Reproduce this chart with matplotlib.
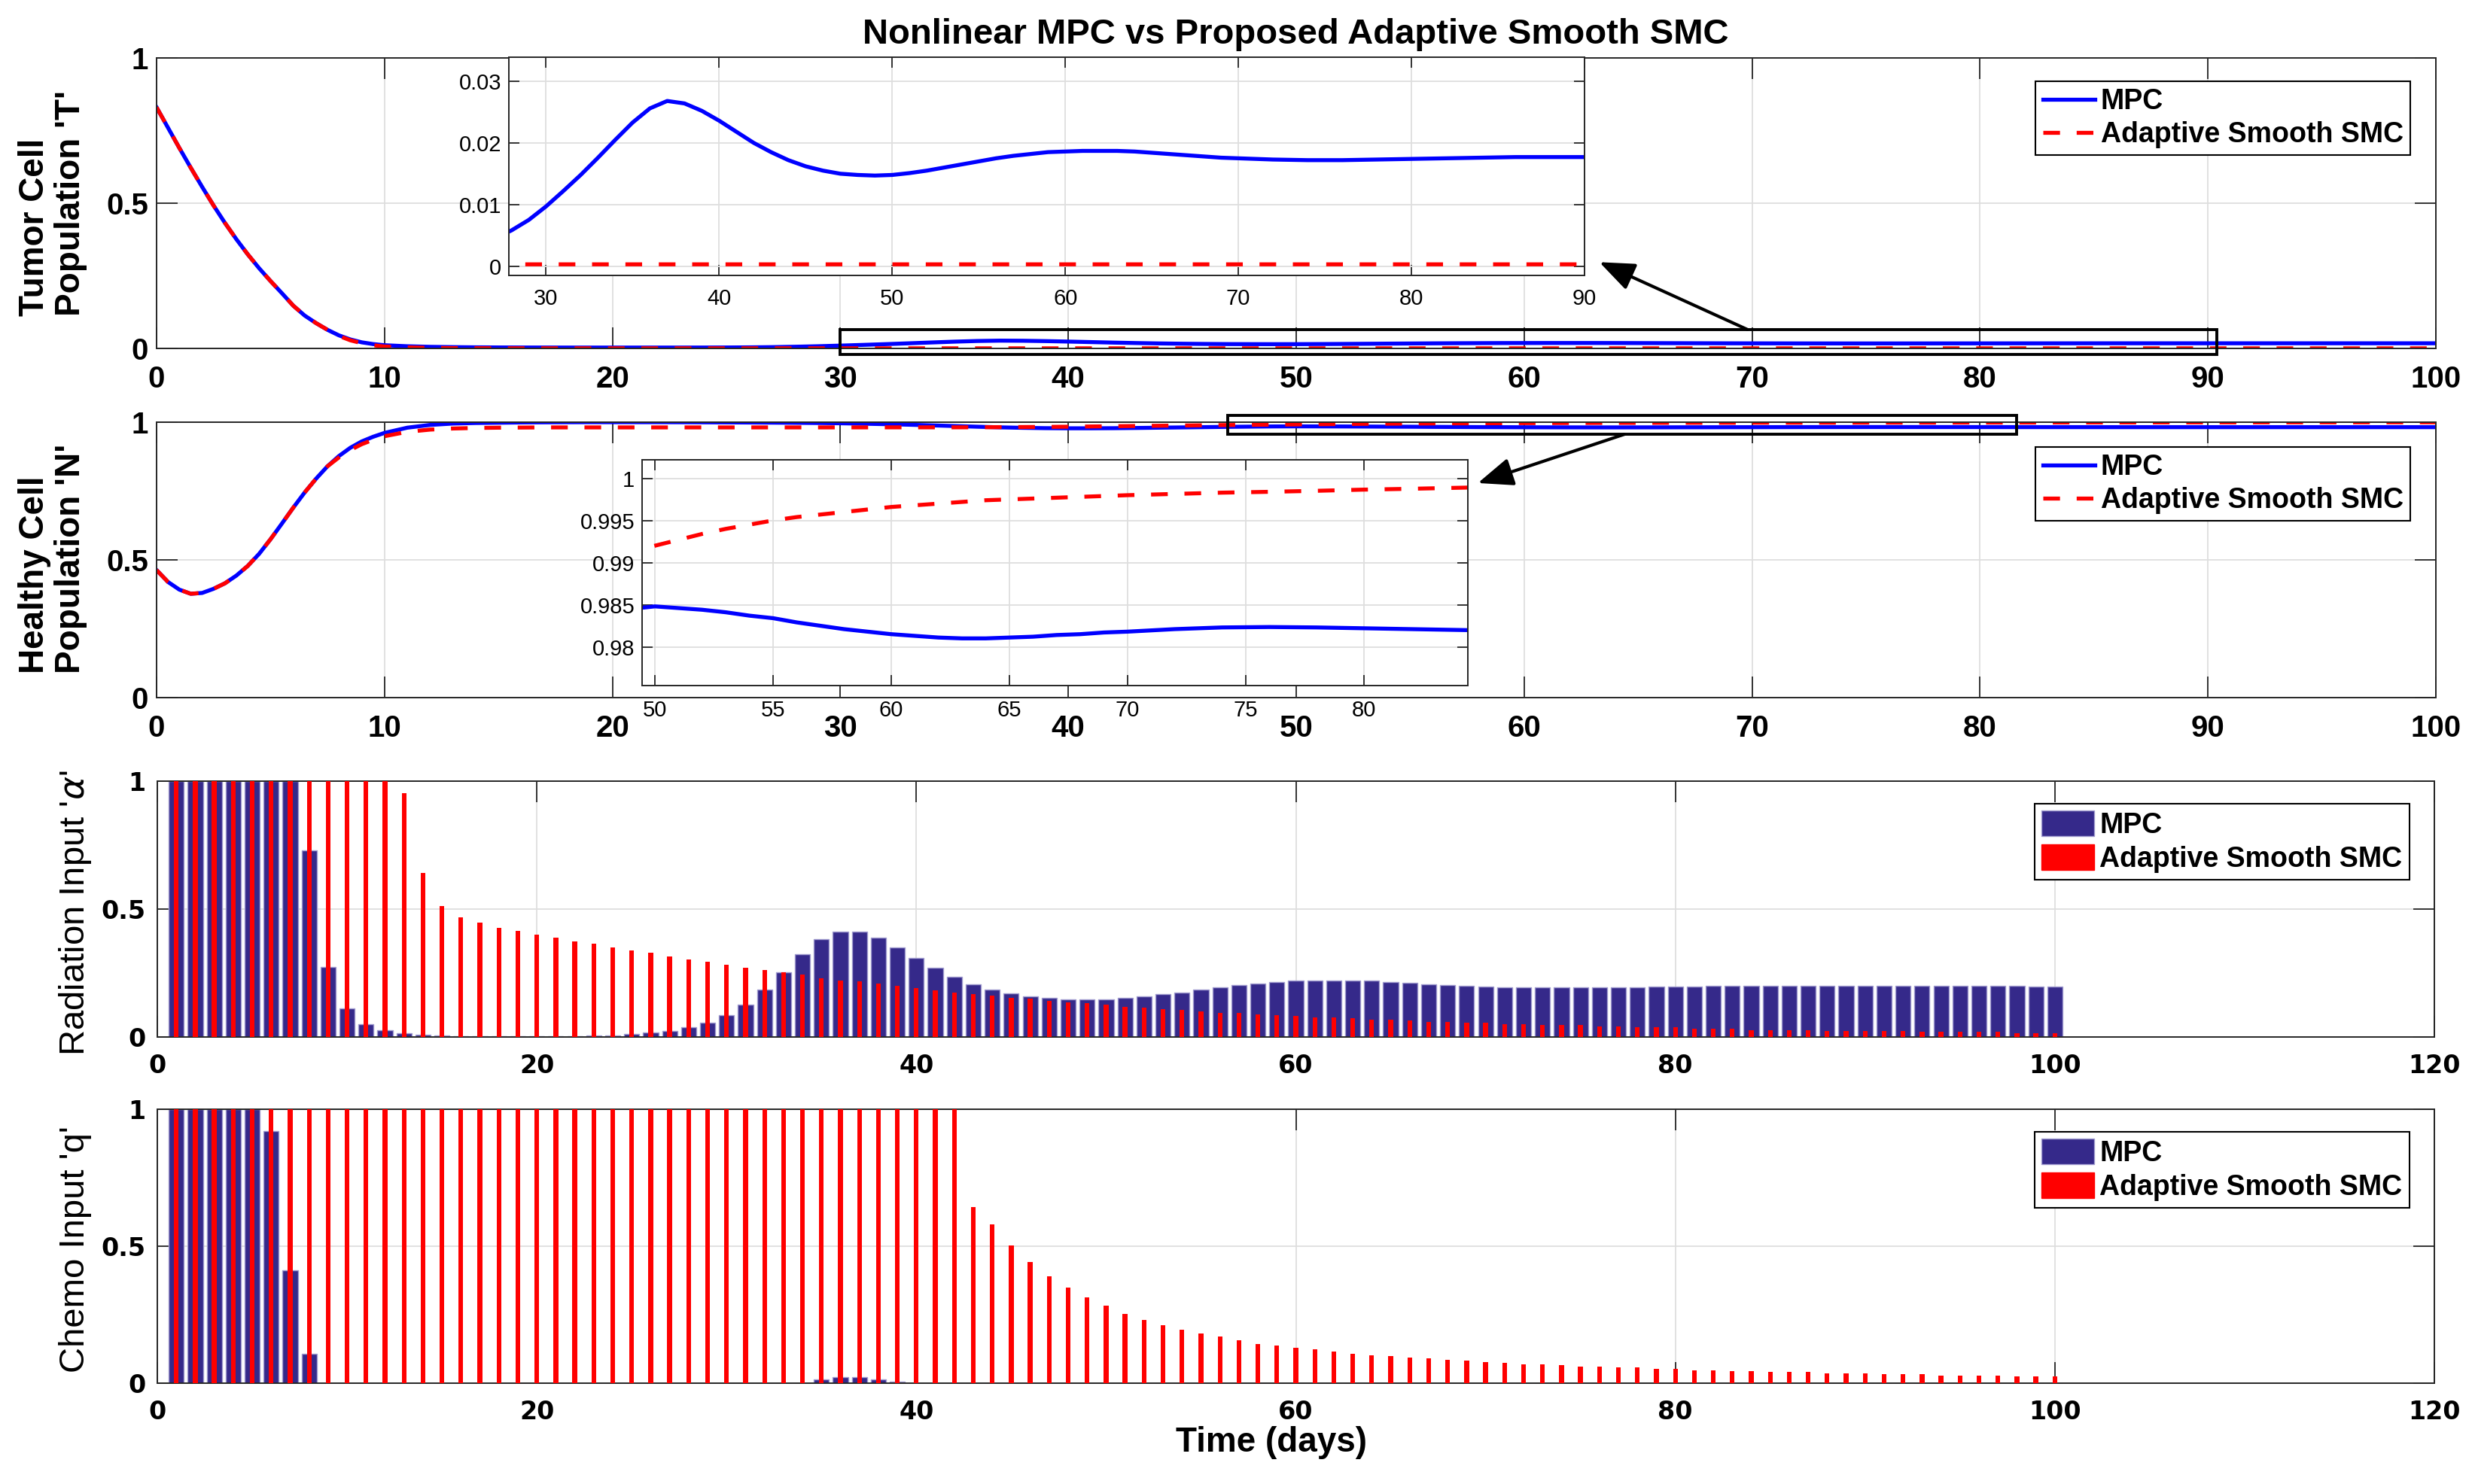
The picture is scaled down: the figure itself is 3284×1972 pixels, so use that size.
import matplotlib
matplotlib.use('Agg')
import matplotlib.pyplot as plt
from matplotlib.patches import Rectangle, Patch
from matplotlib.lines import Line2D
from matplotlib.font_manager import FontProperties

W, H = 3284, 1972

# ---------------- data ----------------
t_state = [0, 0.5, 1, 1.5, 2, 2.5, 3, 3.5, 4, 4.5,
           5, 5.5, 6, 6.5, 7, 7.5, 8, 8.5, 9, 9.5, 10,
           11, 12, 13, 14, 15, 16, 17, 18, 19, 20,
           21, 22, 23, 24, 25, 26, 27, 28, 29, 30,
           31, 32, 33, 34, 35, 36, 37, 38, 39, 40,
           41, 42, 43, 44, 45, 46, 47, 48, 49, 50,
           51, 52, 53, 54, 55, 56, 57, 58, 59, 60,
           61, 62, 63, 64, 65, 66, 67, 68, 69, 70,
           72, 74, 76, 78, 80, 82, 84, 86, 88, 90,
           95, 100]

T_mpc = [0.830, 0.760, 0.690, 0.622, 0.556, 0.492, 0.432, 0.376, 0.324, 0.276,
         0.232, 0.190, 0.147, 0.113, 0.087, 0.064, 0.045, 0.031, 0.021, 0.015, 0.011,
         0.0075, 0.0055, 0.0045, 0.0038, 0.0034, 0.0032, 0.0031, 0.0030, 0.0030, 0.0030,
         0.0030, 0.0030, 0.0030, 0.0031, 0.0033, 0.0037, 0.0045, 0.0058, 0.0075, 0.0097,
         0.0122, 0.0148, 0.0176, 0.0205, 0.0233, 0.0256, 0.0268, 0.0264, 0.0252, 0.0236,
         0.0218, 0.0200, 0.0185, 0.0172, 0.0162, 0.0155, 0.0150, 0.0148, 0.0147, 0.0148,
         0.0151, 0.0155, 0.0160, 0.0165, 0.0170, 0.0175, 0.0179, 0.0182, 0.0185, 0.0186,
         0.0187, 0.0187, 0.0187, 0.0186, 0.0184, 0.0182, 0.0180, 0.0178, 0.0176, 0.0175,
         0.0173, 0.0172, 0.0172, 0.0173, 0.0174, 0.0175, 0.0176, 0.0177, 0.0177, 0.0177,
         0.0177, 0.0177]

T_smc = [0.830, 0.760, 0.690, 0.622, 0.556, 0.492, 0.432, 0.376, 0.324, 0.276,
         0.232, 0.190, 0.147, 0.113, 0.087, 0.064, 0.043, 0.028, 0.018, 0.011, 0.0065,
         0.0035, 0.0018, 0.0010, 0.0007, 0.0005, 0.0004, 0.0004, 0.0003, 0.0003, 0.0003,
         0.0003, 0.0003, 0.0003, 0.0003, 0.0003, 0.0003, 0.0003, 0.0003, 0.0003, 0.0003,
         0.0003, 0.0003, 0.0003, 0.0003, 0.0003, 0.0003, 0.0003, 0.0003, 0.0003, 0.0003,
         0.0003, 0.0003, 0.0003, 0.0003, 0.0003, 0.0003, 0.0003, 0.0003, 0.0003, 0.0003,
         0.0003, 0.0003, 0.0003, 0.0003, 0.0003, 0.0003, 0.0003, 0.0003, 0.0003, 0.0003,
         0.0003, 0.0003, 0.0003, 0.0003, 0.0003, 0.0003, 0.0003, 0.0003, 0.0003, 0.0003,
         0.0003, 0.0003, 0.0003, 0.0003, 0.0003, 0.0003, 0.0003, 0.0003, 0.0003, 0.0003,
         0.0003, 0.0003]

N_mpc = [0.463, 0.420, 0.392, 0.377, 0.380, 0.395, 0.415, 0.443, 0.478, 0.522,
         0.575, 0.632, 0.690, 0.745, 0.795, 0.840, 0.877, 0.907, 0.930, 0.947, 0.961,
         0.980, 0.990, 0.995, 0.997, 0.998, 0.999, 0.9995, 0.9998, 1.000, 1.000,
         1.000, 1.000, 0.9998, 0.9995, 0.9992, 0.9988, 0.9983, 0.9977, 0.9970, 0.9960,
         0.9945, 0.9928, 0.9908, 0.9885, 0.9860, 0.9835, 0.9812, 0.9795, 0.9783, 0.9778,
         0.9778, 0.9782, 0.9790, 0.9800, 0.9810, 0.9820, 0.9830, 0.9838, 0.9845, 0.9848,
         0.9846, 0.9844, 0.9841, 0.9837, 0.9834, 0.9829, 0.9825, 0.9821, 0.9818, 0.9815,
         0.9813, 0.9811, 0.9810, 0.9810, 0.9811, 0.9812, 0.9814, 0.9815, 0.9817, 0.9818,
         0.9821, 0.9823, 0.98235, 0.9823, 0.9822, 0.9821, 0.9820, 0.9819, 0.9819, 0.9819,
         0.9819, 0.9819]

N_smc = [0.463, 0.420, 0.392, 0.377, 0.380, 0.395, 0.415, 0.443, 0.478, 0.522,
         0.575, 0.632, 0.690, 0.745, 0.795, 0.840, 0.872, 0.899, 0.920, 0.936, 0.949,
         0.965, 0.973, 0.977, 0.979, 0.980, 0.9805, 0.981, 0.981, 0.981, 0.981,
         0.981, 0.981, 0.981, 0.981, 0.981, 0.981, 0.981, 0.981, 0.981, 0.9811,
         0.9811, 0.9812, 0.9812, 0.9813, 0.9813, 0.9815, 0.9819, 0.9823, 0.9828, 0.9835,
         0.9844, 0.9853, 0.9862, 0.9871, 0.9880, 0.9888, 0.9896, 0.9904, 0.9912, 0.9920,
         0.9927, 0.9934, 0.9940, 0.9945, 0.9950, 0.9954, 0.9957, 0.9960, 0.9963, 0.9966,
         0.9968, 0.9970, 0.9972, 0.9974, 0.9975, 0.9976, 0.9977, 0.9978, 0.9979, 0.9980,
         0.99815, 0.9983, 0.9984, 0.99852, 0.99866, 0.99876, 0.99888, 0.9990, 0.9991, 0.9992,
         0.9994, 0.9995]

days = list(range(1, 101))

alpha_mpc = [1, 1, 1, 1, 1, 1, 1, 0.728, 0.275, 0.113,
             0.051, 0.027, 0.015, 0.010, 0.006, 0.004, 0.003, 0.003, 0.003, 0.003,
             0.003, 0.004, 0.005, 0.007, 0.011, 0.019, 0.025, 0.037, 0.056, 0.085,
             0.127, 0.184, 0.253, 0.325, 0.382, 0.413, 0.413, 0.387, 0.351, 0.310,
             0.270, 0.234, 0.207, 0.186, 0.171, 0.159, 0.153, 0.147, 0.146, 0.148,
             0.154, 0.159, 0.167, 0.175, 0.184, 0.193, 0.202, 0.209, 0.216, 0.220,
             0.222, 0.222, 0.222, 0.220, 0.216, 0.212, 0.207, 0.204, 0.200, 0.198,
             0.195, 0.194, 0.193, 0.193, 0.193, 0.193, 0.194, 0.194, 0.196, 0.197,
             0.198, 0.199, 0.200, 0.200, 0.201, 0.201, 0.201, 0.201, 0.201, 0.201,
             0.200, 0.200, 0.200, 0.200, 0.199, 0.199, 0.199, 0.199, 0.198, 0.198]

alpha_smc = [1, 1, 1, 1, 1, 1, 1, 1, 1, 1,
             1, 1, 0.952, 0.642, 0.513, 0.468, 0.446, 0.427, 0.414, 0.401,
             0.387, 0.374, 0.364, 0.351, 0.337, 0.328, 0.316, 0.302, 0.293, 0.283,
             0.271, 0.262, 0.252, 0.243, 0.229, 0.222, 0.217, 0.208, 0.199, 0.190,
             0.181, 0.175, 0.167, 0.162, 0.154, 0.149, 0.141, 0.135, 0.131, 0.127,
             0.118, 0.114, 0.109, 0.105, 0.100, 0.095, 0.095, 0.089, 0.086, 0.081,
             0.077, 0.077, 0.073, 0.069, 0.069, 0.064, 0.060, 0.060, 0.055, 0.055,
             0.051, 0.051, 0.047, 0.047, 0.047, 0.042, 0.042, 0.037, 0.037, 0.037,
             0.032, 0.032, 0.032, 0.027, 0.027, 0.027, 0.027, 0.024, 0.024, 0.024,
             0.024, 0.024, 0.020, 0.020, 0.020, 0.020, 0.020, 0.015, 0.015, 0.015]

q_mpc = [1, 1, 1, 1, 1, 0.919, 0.411, 0.106, 0, 0,
         0, 0, 0, 0, 0, 0, 0, 0, 0, 0,
         0, 0, 0, 0, 0, 0, 0, 0, 0, 0,
         0, 0, 0, 0, 0.014, 0.023, 0.023, 0.014, 0.005, 0,
         0, 0, 0, 0, 0, 0, 0, 0, 0, 0,
         0, 0, 0, 0, 0, 0, 0, 0, 0, 0,
         0, 0, 0, 0, 0, 0, 0, 0, 0, 0,
         0, 0, 0, 0, 0, 0, 0, 0, 0, 0,
         0, 0, 0, 0, 0, 0, 0, 0, 0, 0,
         0, 0, 0, 0, 0, 0, 0, 0, 0, 0]

q_smc = [1, 1, 1, 1, 1, 1, 1, 1, 1, 1,
         1, 1, 1, 1, 1, 1, 1, 1, 1, 1,
         1, 1, 1, 1, 1, 1, 1, 1, 1, 1,
         1, 1, 1, 1, 1, 1, 1, 1, 1, 1,
         1, 1, 0.642, 0.579, 0.504, 0.441, 0.390, 0.349, 0.312, 0.282,
         0.253, 0.232, 0.211, 0.194, 0.182, 0.169, 0.157, 0.144, 0.136, 0.128,
         0.123, 0.115, 0.107, 0.103, 0.099, 0.094, 0.090, 0.086, 0.082, 0.078,
         0.074, 0.069, 0.069, 0.066, 0.061, 0.061, 0.058, 0.058, 0.053, 0.053,
         0.048, 0.048, 0.045, 0.045, 0.040, 0.040, 0.040, 0.037, 0.037, 0.037,
         0.032, 0.032, 0.032, 0.028, 0.028, 0.028, 0.028, 0.024, 0.024, 0.024]

title_text = 'Nonlinear MPC vs Proposed Adaptive Smooth SMC'
legend_labels = ['MPC', 'Adaptive Smooth SMC']
state_xticks = [0, 10, 20, 30, 40, 50, 60, 70, 80, 90, 100]
input_xticks = [0, 20, 40, 60, 80, 100, 120]
unit_yticks = [0, 0.5, 1]
unit_ylabels = ['0', '0.5', '1']
inset1_xticks = [30, 40, 50, 60, 70, 80, 90]
inset1_yticks = [0, 0.01, 0.02, 0.03]
inset1_ylabels = ['0', '0.01', '0.02', '0.03']
inset2_xticks = [50, 55, 60, 65, 70, 75, 80]
inset2_yticks = [0.98, 0.985, 0.99, 0.995, 1.0]
inset2_ylabels = ['0.98', '0.985', '0.99', '0.995', '1']

# ---------------- style ----------------
BLUE = '#0000ff'
RED = '#ff0000'
NAVY = '#35298a'
NAVY_EDGE = '#a09bcf'
SPINE = '#262626'
GRID = '#dedede'
LW = 3.8
DASH = (0, (4.2, 4.2))

plt.rcParams['mathtext.fontset'] = 'dejavusans'

fp_state = FontProperties(family=['Liberation Sans', 'DejaVu Sans'], weight='bold', size=29)
fp_input = FontProperties(family=['DejaVu Sans'], weight='bold', size=24)
fp_inset = FontProperties(family=['Liberation Sans', 'DejaVu Sans'], size=21)
fp_leg = FontProperties(family=['Liberation Sans', 'DejaVu Sans'], weight='bold', size=27)

fig = plt.figure(figsize=(W / 100, H / 100), dpi=100)


def rect(l, t, r, b):
    return [l / W, 1 - b / H, (r - l) / W, (b - t) / H]


def style(ax, xt, xl, yt, yl, fp, padx, pady, length):
    ax.set_xticks(xt)
    ax.set_xticklabels(xl, fontproperties=fp)
    ax.set_yticks(yt)
    ax.set_yticklabels(yl, fontproperties=fp)
    ax.tick_params(axis='both', which='major', direction='in', length=length,
                   width=1.3, color=SPINE, labelcolor='black', top=True, right=True)
    ax.tick_params(axis='x', pad=padx)
    ax.tick_params(axis='y', pad=pady)
    ax.grid(True, color=GRID, lw=1.3)
    ax.set_axisbelow(True)
    for s in ax.spines.values():
        s.set_color(SPINE)
        s.set_linewidth(1.4)


line_handles = [Line2D([], [], color=BLUE, lw=LW),
                Line2D([], [], color=RED, lw=LW, ls=DASH)]
bar_handles = [Patch(facecolor=NAVY, edgecolor=NAVY_EDGE, lw=1.0),
               Patch(facecolor=RED, edgecolor=RED)]


def add_legend(ax, handles, anchor, hh):
    leg = ax.legend(handles=handles, labels=legend_labels, loc='upper right',
                    bbox_to_anchor=anchor, borderaxespad=0, prop=fp_leg,
                    frameon=True, fancybox=False, edgecolor='black', framealpha=1,
                    handlelength=1.85, handleheight=hh, handletextpad=0.2,
                    borderpad=0.25, labelspacing=0.2)
    leg.get_frame().set_linewidth(1.5)
    return leg


# ---------------- panel 1 : tumor ----------------
ax1 = fig.add_axes(rect(208, 77, 3236, 463))
ax1.plot(t_state, T_mpc, color=BLUE, lw=LW)
ax1.plot(t_state, T_smc, color=RED, lw=LW, ls=DASH)
ax1.set_xlim(0, 100)
ax1.set_ylim(0, 1)
style(ax1, state_xticks, [str(v) for v in state_xticks], unit_yticks, unit_ylabels,
      fp_state, 16, 8, 20)
add_legend(ax1, line_handles, (0.9888, 0.9197), 0.7)
ax1.add_patch(Rectangle((30, -0.02), 60.4, 0.085, fill=False, ec='black', lw=2.8,
                        clip_on=False, zorder=6))
ax1.annotate('', xy=(63.3, 0.297), xytext=(69.8, 0.065), xycoords='data',
             arrowprops=dict(arrowstyle='-|>,head_length=0.55,head_width=0.22',
                             color='black', lw=3, mutation_scale=52,
                             shrinkA=0, shrinkB=0),
             annotation_clip=False, zorder=7)

# ---------------- panel 2 : healthy ----------------
ax2 = fig.add_axes(rect(208, 561, 3236, 927))
ax2.plot(t_state, N_mpc, color=BLUE, lw=LW)
ax2.plot(t_state, N_smc, color=RED, lw=LW, ls=DASH)
ax2.set_xlim(0, 100)
ax2.set_ylim(0, 1)
style(ax2, state_xticks, [str(v) for v in state_xticks], unit_yticks, unit_ylabels,
      fp_state, 16, 8, 20)
add_legend(ax2, line_handles, (0.9888, 0.9098), 0.7)
ax2.add_patch(Rectangle((47, 0.956), 34.6, 0.068, fill=False, ec='black', lw=2.8,
                        clip_on=False, zorder=6))
ax2.annotate('', xy=(57.97, 0.779), xytext=(64.4, 0.956), xycoords='data',
             arrowprops=dict(arrowstyle='-|>,head_length=0.55,head_width=0.22',
                             color='black', lw=3, mutation_scale=52,
                             shrinkA=0, shrinkB=0),
             annotation_clip=False, zorder=7)

# ---------------- panel 3 : radiation ----------------
ax3 = fig.add_axes(rect(209, 1038, 3234, 1378))
ax3.bar(days, alpha_mpc, width=0.8, color=NAVY, edgecolor=NAVY_EDGE, linewidth=1.0, zorder=2)
ax3.bar(days, alpha_smc, width=0.25, color=RED, edgecolor='none', zorder=3)
ax3.set_xlim(0, 120)
ax3.set_ylim(0, 1)
style(ax3, input_xticks, [str(v) for v in input_xticks], unit_yticks, unit_ylabels,
      fp_input, 16, 11, 20)
add_legend(ax3, bar_handles, (0.989, 0.912), 1.0)

# ---------------- panel 4 : chemo ----------------
ax4 = fig.add_axes(rect(209, 1474, 3234, 1838))
ax4.bar(days, q_mpc, width=0.8, color=NAVY, edgecolor=NAVY_EDGE, linewidth=1.0, zorder=2)
ax4.bar(days, q_smc, width=0.25, color=RED, edgecolor='none', zorder=3)
ax4.set_xlim(0, 120)
ax4.set_ylim(0, 1)
style(ax4, input_xticks, [str(v) for v in input_xticks], unit_yticks, unit_ylabels,
      fp_input, 16, 11, 20)
add_legend(ax4, bar_handles, (0.989, 0.9176), 1.0)

# ---------------- inset 1 ----------------
in1 = fig.add_axes(rect(676, 76, 2105, 366))
in1.set_facecolor('white')
in1.plot(t_state, T_mpc, color=BLUE, lw=LW)
in1.plot(t_state, T_smc, color=RED, lw=LW, ls=DASH)
in1.set_xlim(27.85, 90)
in1.set_ylim(-0.0015, 0.0339)
style(in1, inset1_xticks, [str(v) for v in inset1_xticks], inset1_yticks, inset1_ylabels,
      fp_inset, 12, 7, 10)

# ---------------- inset 2 ----------------
in2 = fig.add_axes(rect(853, 611, 1950, 911))
in2.set_facecolor('white')
in2.plot(t_state, N_mpc, color=BLUE, lw=LW)
in2.plot(t_state, N_smc, color=RED, lw=LW, ls=DASH)
in2.set_xlim(49.46, 84.4)
in2.set_ylim(0.9754, 1.0022)
style(in2, inset2_xticks, [str(v) for v in inset2_xticks], inset2_yticks, inset2_ylabels,
      fp_inset, 14, 7, 10)

# ---------------- texts ----------------
fig.text(1721 / W, 1 - 46 / H, title_text, ha='center', va='center',
         fontsize=34, fontweight='bold', family=['Liberation Sans', 'DejaVu Sans'])
fig.text(70 / W, 1 - 270 / H, "Tumor Cell\nPopulation 'T'", rotation=90,
         ha='center', va='center', multialignment='left', linespacing=1.1,
         fontsize=33, fontweight='bold', family=['Liberation Sans', 'DejaVu Sans'])
fig.text(70 / W, 1 - 742 / H, "Healthy Cell\nPopulation 'N'", rotation=90,
         ha='center', va='center', multialignment='left', linespacing=1.1,
         fontsize=33, fontweight='bold', family=['Liberation Sans', 'DejaVu Sans'])
fig.text(100 / W, 1 - 1213 / H, "Radiation Input '$\\alpha$'", rotation=90,
         ha='center', va='center', fontsize=34, family=['Liberation Sans', 'DejaVu Sans'])
fig.text(100 / W, 1 - 1660 / H, "Chemo Input 'q'", rotation=90,
         ha='center', va='center', fontsize=34, family=['Liberation Sans', 'DejaVu Sans'])
fig.text(1689 / W, 1 - 1917 / H, 'Time (days)', ha='center', va='center',
         fontsize=33, fontweight='bold', family=['Liberation Sans', 'DejaVu Sans'])

fig.savefig('out.png', dpi=100, facecolor='white')
